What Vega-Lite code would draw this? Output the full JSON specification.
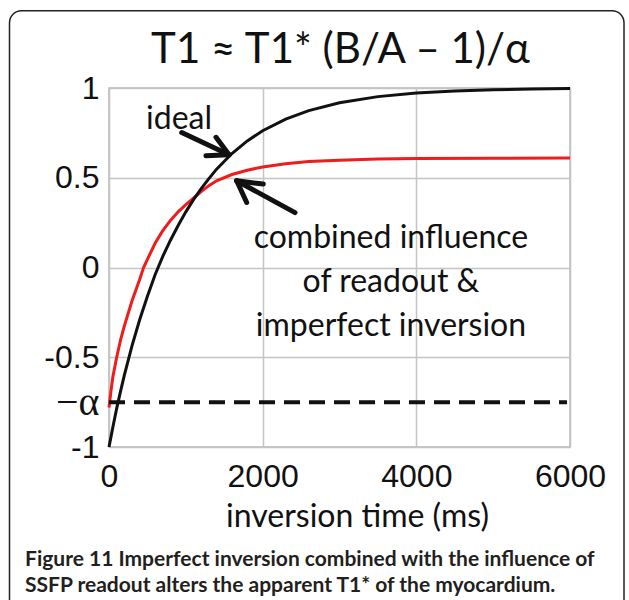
{
  "$schema": "https://vega.github.io/schema/vega-lite/v6.json",
  "width": 461,
  "height": 359,
  "autosize": {"type": "none"},
  "padding": {"left": 109, "top": 88, "right": 59, "bottom": 153},
  "background": "white",
  "config": {
    "view": {"stroke": "#b8b8b8", "strokeWidth": 1.5}
  },
  "datasets": {
    "curves": [
      {"t": 0, "v": -1, "s": "ideal"},
      {"t": 25, "v": -0.945, "s": "ideal"},
      {"t": 50, "v": -0.89, "s": "ideal"},
      {"t": 100, "v": -0.785, "s": "ideal"},
      {"t": 150, "v": -0.69, "s": "ideal"},
      {"t": 200, "v": -0.6, "s": "ideal"},
      {"t": 300, "v": -0.435, "s": "ideal"},
      {"t": 400, "v": -0.29, "s": "ideal"},
      {"t": 500, "v": -0.16, "s": "ideal"},
      {"t": 600, "v": -0.04, "s": "ideal"},
      {"t": 700, "v": 0.062, "s": "ideal"},
      {"t": 800, "v": 0.152, "s": "ideal"},
      {"t": 900, "v": 0.234, "s": "ideal"},
      {"t": 1000, "v": 0.31, "s": "ideal"},
      {"t": 1100, "v": 0.378, "s": "ideal"},
      {"t": 1200, "v": 0.44, "s": "ideal"},
      {"t": 1300, "v": 0.495, "s": "ideal"},
      {"t": 1400, "v": 0.548, "s": "ideal"},
      {"t": 1600, "v": 0.635, "s": "ideal"},
      {"t": 1800, "v": 0.705, "s": "ideal"},
      {"t": 2000, "v": 0.762, "s": "ideal"},
      {"t": 2300, "v": 0.827, "s": "ideal"},
      {"t": 2600, "v": 0.874, "s": "ideal"},
      {"t": 3000, "v": 0.918, "s": "ideal"},
      {"t": 3500, "v": 0.952, "s": "ideal"},
      {"t": 4000, "v": 0.972, "s": "ideal"},
      {"t": 4500, "v": 0.983, "s": "ideal"},
      {"t": 5000, "v": 0.99, "s": "ideal"},
      {"t": 5500, "v": 0.994, "s": "ideal"},
      {"t": 6000, "v": 0.997, "s": "ideal"},
      {"t": 0, "v": -0.78, "s": "combined"},
      {"t": 25, "v": -0.69, "s": "combined"},
      {"t": 50, "v": -0.61, "s": "combined"},
      {"t": 100, "v": -0.5, "s": "combined"},
      {"t": 150, "v": -0.405, "s": "combined"},
      {"t": 200, "v": -0.325, "s": "combined"},
      {"t": 300, "v": -0.185, "s": "combined"},
      {"t": 400, "v": -0.065, "s": "combined"},
      {"t": 450, "v": 0.0, "s": "combined"},
      {"t": 500, "v": 0.045, "s": "combined"},
      {"t": 600, "v": 0.135, "s": "combined"},
      {"t": 700, "v": 0.205, "s": "combined"},
      {"t": 800, "v": 0.262, "s": "combined"},
      {"t": 900, "v": 0.31, "s": "combined"},
      {"t": 1000, "v": 0.35, "s": "combined"},
      {"t": 1100, "v": 0.387, "s": "combined"},
      {"t": 1200, "v": 0.423, "s": "combined"},
      {"t": 1300, "v": 0.456, "s": "combined"},
      {"t": 1400, "v": 0.483, "s": "combined"},
      {"t": 1600, "v": 0.518, "s": "combined"},
      {"t": 1800, "v": 0.542, "s": "combined"},
      {"t": 2000, "v": 0.56, "s": "combined"},
      {"t": 2300, "v": 0.578, "s": "combined"},
      {"t": 2600, "v": 0.59, "s": "combined"},
      {"t": 3000, "v": 0.598, "s": "combined"},
      {"t": 3500, "v": 0.604, "s": "combined"},
      {"t": 4000, "v": 0.607, "s": "combined"},
      {"t": 5000, "v": 0.609, "s": "combined"},
      {"t": 6000, "v": 0.61, "s": "combined"}
    ],
    "arrows": [
      {"t": 946, "v": 0.752, "t2": 1562, "v2": 0.628},
      {"t": 1262, "v": 0.622, "t2": 1562, "v2": 0.628},
      {"t": 1393, "v": 0.725, "t2": 1562, "v2": 0.628},
      {"t": 2421, "v": 0.306, "t2": 1662, "v2": 0.483},
      {"t": 1792, "v": 0.362, "t2": 1662, "v2": 0.483},
      {"t": 2008, "v": 0.465, "t2": 1662, "v2": 0.483}
    ],
    "notes": [
      {"t": 911, "v": 0.773, "text": "ideal"},
      {"t": 3670, "v": 0.111, "text": "combined influence"},
      {"t": 3670, "v": -0.134, "text": "of readout &"},
      {"t": 3670, "v": -0.379, "text": "imperfect inversion"}
    ],
    "heading": [
      {"t": 3013, "v": 1.14, "text": "T1 ≈ T1* (B/A – 1)/α"}
    ],
    "alpha": [
      {"t0": 0, "t1": 5960, "v": -0.75}
    ],
    "caption": [
      {"t": -1093, "v": -1.662, "text": "Figure 11 Imperfect inversion combined with the influence of"},
      {"t": -1093, "v": -1.807, "text": "SSFP readout alters the apparent T1* of the myocardium."}
    ],
    "frame": [
      {"t": -1295, "v": 1.43, "t2": 6703, "v2": -2.08}
    ]
  },
  "layer": [
    {
      "data": {"name": "frame"},
      "mark": {"type": "rect", "fill": null, "fillOpacity": 0, "stroke": "#222222", "strokeWidth": 1.5, "cornerRadius": 12},
      "encoding": {
        "x": {
          "field": "t", "type": "quantitative",
          "scale": {"domain": [0, 6000], "nice": false, "zero": false},
          "axis": {
            "values": [0, 2000, 4000, 6000],
            "format": "d",
            "title": "inversion time (ms)",
            "titleFont": "Lato", "titleFontSize": 32, "titleFontWeight": "normal", "titleColor": "#111111",
            "titleBaseline": "alphabetic", "titleX": 248, "titleY": 79,
            "labelFont": "Liberation Sans", "labelFontSize": 32, "labelColor": "#111111",
            "labelPadding": 14, "labelFlush": false, "labelOverlap": false,
            "ticks": false, "domain": false,
            "grid": true, "gridColor": "#c4c4c4", "gridWidth": 1.5
          }
        },
        "x2": {"field": "t2"},
        "y": {
          "field": "v", "type": "quantitative",
          "scale": {"domain": [-1, 1], "nice": false, "zero": false},
          "axis": {
            "values": [-1, -0.75, -0.5, 0, 0.5, 1],
            "title": null,
            "labelExpr": "datum.value == -0.75 ? '\u2212\u03b1' : toString(datum.value)",
            "labelFont": {"condition": {"test": "datum.value == -0.75", "value": "Liberation Serif"}, "value": "Liberation Sans"},
            "labelFontSize": {"condition": {"test": "datum.value == -0.75", "value": 40}, "value": 32},
            "labelColor": "#111111",
            "labelPadding": 10, "labelOverlap": false,
            "ticks": false, "domain": false,
            "grid": true, "gridWidth": 1.5,
            "gridColor": {"condition": {"test": "datum.value == -0.75", "value": "transparent"}, "value": "#c4c4c4"}
          }
        },
        "y2": {"field": "v2"}
      }
    },
    {
      "data": {"name": "curves"},
      "transform": [{"filter": "datum.s == 'combined'"}],
      "mark": {"type": "line", "color": "#ee1c1c", "strokeWidth": 3},
      "encoding": {
        "x": {"field": "t", "type": "quantitative", "scale": {"domain": [0, 6000], "nice": false, "zero": false}},
        "y": {"field": "v", "type": "quantitative", "scale": {"domain": [-1, 1], "nice": false, "zero": false}}
      }
    },
    {
      "data": {"name": "curves"},
      "transform": [{"filter": "datum.s == 'ideal'"}],
      "mark": {"type": "line", "color": "#111111", "strokeWidth": 3},
      "encoding": {
        "x": {"field": "t", "type": "quantitative", "scale": {"domain": [0, 6000], "nice": false, "zero": false}},
        "y": {"field": "v", "type": "quantitative", "scale": {"domain": [-1, 1], "nice": false, "zero": false}}
      }
    },
    {
      "data": {"name": "alpha"},
      "mark": {"type": "rule", "color": "#111111", "strokeWidth": 4, "strokeDash": [16, 9]},
      "encoding": {
        "x": {"field": "t0", "type": "quantitative", "scale": {"domain": [0, 6000], "nice": false, "zero": false}},
        "x2": {"field": "t1"},
        "y": {"field": "v", "type": "quantitative", "scale": {"domain": [-1, 1], "nice": false, "zero": false}}
      }
    },
    {
      "data": {"name": "arrows"},
      "mark": {"type": "rule", "color": "#111111", "strokeWidth": 5, "strokeCap": "round"},
      "encoding": {
        "x": {"field": "t", "type": "quantitative", "scale": {"domain": [0, 6000], "nice": false, "zero": false}},
        "x2": {"field": "t2"},
        "y": {"field": "v", "type": "quantitative", "scale": {"domain": [-1, 1], "nice": false, "zero": false}},
        "y2": {"field": "v2"}
      }
    },
    {
      "data": {"name": "notes"},
      "mark": {"type": "text", "font": "Lato", "fontSize": 32, "color": "#111111", "align": "center", "baseline": "alphabetic"},
      "encoding": {
        "x": {"field": "t", "type": "quantitative", "scale": {"domain": [0, 6000], "nice": false, "zero": false}},
        "y": {"field": "v", "type": "quantitative", "scale": {"domain": [-1, 1], "nice": false, "zero": false}},
        "text": {"field": "text"}
      }
    },
    {
      "data": {"name": "heading"},
      "mark": {"type": "text", "font": "Lato", "fontSize": 42, "color": "#111111", "align": "center", "baseline": "alphabetic"},
      "encoding": {
        "x": {"field": "t", "type": "quantitative", "scale": {"domain": [0, 6000], "nice": false, "zero": false}},
        "y": {"field": "v", "type": "quantitative", "scale": {"domain": [-1, 1], "nice": false, "zero": false}},
        "text": {"field": "text"}
      }
    },
    {
      "data": {"name": "caption"},
      "mark": {"type": "text", "font": "Lato", "fontSize": 21, "fontWeight": "bold", "color": "#231f20", "align": "left", "baseline": "alphabetic"},
      "encoding": {
        "x": {"field": "t", "type": "quantitative", "scale": {"domain": [0, 6000], "nice": false, "zero": false}},
        "y": {"field": "v", "type": "quantitative", "scale": {"domain": [-1, 1], "nice": false, "zero": false}},
        "text": {"field": "text"}
      }
    }
  ]
}
